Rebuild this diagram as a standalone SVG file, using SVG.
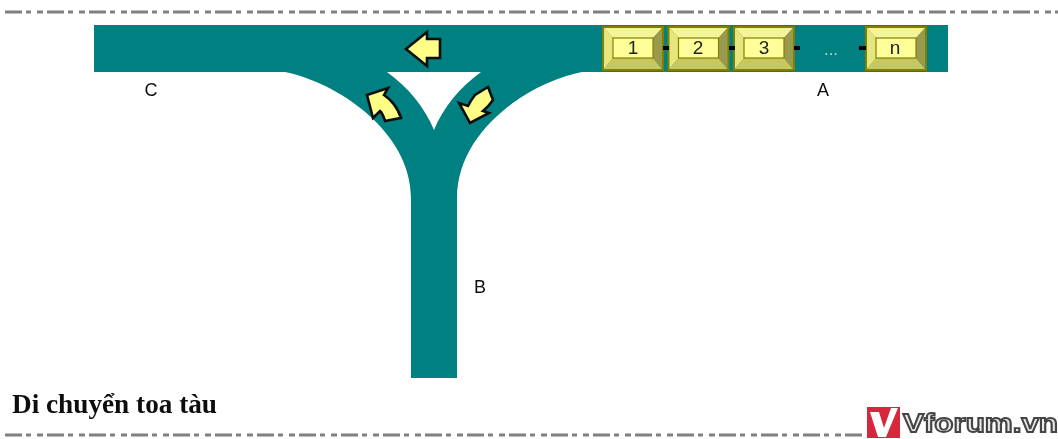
<svg xmlns="http://www.w3.org/2000/svg" width="1058" height="439" viewBox="0 0 1058 439">
<style>
.rule{stroke:#808080;stroke-width:3;fill:none;stroke-dasharray:17 4 5 6 6 4}
.track{fill:#008080}
.arrow{fill:#ffff88;stroke:#111;stroke-width:2.6;stroke-linejoin:miter}
.lbl{font-family:"Liberation Sans",Arial,sans-serif;font-size:18px;fill:#111;text-anchor:middle}
.num{font-family:"Liberation Sans",Arial,sans-serif;font-size:19px;fill:#222;text-anchor:middle}
.link{stroke:#000;stroke-width:4;fill:none}
.edge{stroke:#808000;stroke-width:2}
.t{fill:#f4f49a}.l{fill:#e6e67e}.b{fill:#c8c860}.r{fill:#999950}.f{fill:#ffff99}
</style>
<defs>
<filter id="soft" x="-5%" y="-5%" width="110%" height="110%"><feGaussianBlur stdDeviation="0.7"/></filter>
<filter id="soft2" x="-5%" y="-20%" width="110%" height="140%"><feGaussianBlur stdDeviation="0.6"/></filter>
<g id="car">
<rect class="edge" x="0" y="0" width="60" height="43" fill="#808000"/>
<path class="t" d="M1 1H59L50 11H10Z"/>
<path class="l" d="M1 1L10 11V31L1 42Z"/>
<path class="b" d="M1 42L10 31H50L59 42Z"/>
<path class="r" d="M59 1L50 11V31L59 42Z"/>
<rect class="f" x="10" y="11" width="40" height="20" stroke="#808000" stroke-width="1.2"/>
</g>
</defs>
<g filter="url(#soft)">
<path id="rule-top" class="rule" d="M5 12H1058"/>
<path id="rule-bottom" class="rule" d="M5 435H864"/>
<g id="track">
<path class="track" d="M94 25H948V72H582C530 82 457 130 457 198V378H411V198C411 130 335 82 285 72H94Z"/>
<path fill="#fff" d="M387 72H481C459 88 443 108 434 130C425 108 409 88 387 72Z"/>
</g>
<g id="car-1"><use href="#car" x="603" y="27"/><text class="num" x="633" y="54">1</text></g>
<g id="car-2"><use href="#car" x="668.500" y="27"/><text class="num" x="698" y="54">2</text></g>
<g id="car-3"><use href="#car" x="734" y="27"/><text class="num" x="764" y="54">3</text></g>
<g id="ellipsis"><text x="831" y="54.500" font-family="Liberation Sans, Arial, sans-serif" font-size="17" fill="#b5dcdc" text-anchor="middle">...</text></g>
<g id="car-n"><use href="#car" x="866" y="27"/><text class="num" x="895" y="54">n</text></g>
<g id="connectors">
<path class="link" d="M663 48H669M729 48H735M794 48H800M859 48H866"/>
</g>
<g id="arrow-main"><path class="arrow" d="M406 49L427 32V39H440V58H427V66Z"/></g>
<g id="arrow-left"><path class="arrow" d="M367 95L388 88L384 95Q396 103 401 118L385 121Q383 114 380 111L373 118Z"/></g>
<g id="arrow-right"><path class="arrow" d="M488 87L493 100Q489 106 483 111L489 113L470 123L459 103L468 106Q471 100 475 95Z"/></g>
<g id="label-a"><text class="lbl" x="823" y="96">A</text></g>
<g id="label-b"><text class="lbl" x="480" y="293">B</text></g>
<g id="label-c"><text class="lbl" x="151" y="96">C</text></g>
</g>
<g filter="url(#soft2)">
<text id="caption" x="12" y="413" font-family="Liberation Serif, Times New Roman, serif" font-size="27" font-weight="bold" fill="#111" textLength="205" lengthAdjust="spacingAndGlyphs">Di chuyển toa tàu</text>
<g id="logo">
<rect x="867" y="407" width="33" height="31" fill="#d8283c"/>
<path d="M870 412H879L884 428L891 408H898L886 437H878Z" fill="#fff"/>
<text x="903" y="432" font-family="Liberation Sans, Arial, sans-serif" font-size="26" font-weight="bold" fill="#e8e8e8" stroke="#444" stroke-width="1.8" textLength="155" lengthAdjust="spacingAndGlyphs">Vforum.vn</text>
</g>
</g>
</svg>
